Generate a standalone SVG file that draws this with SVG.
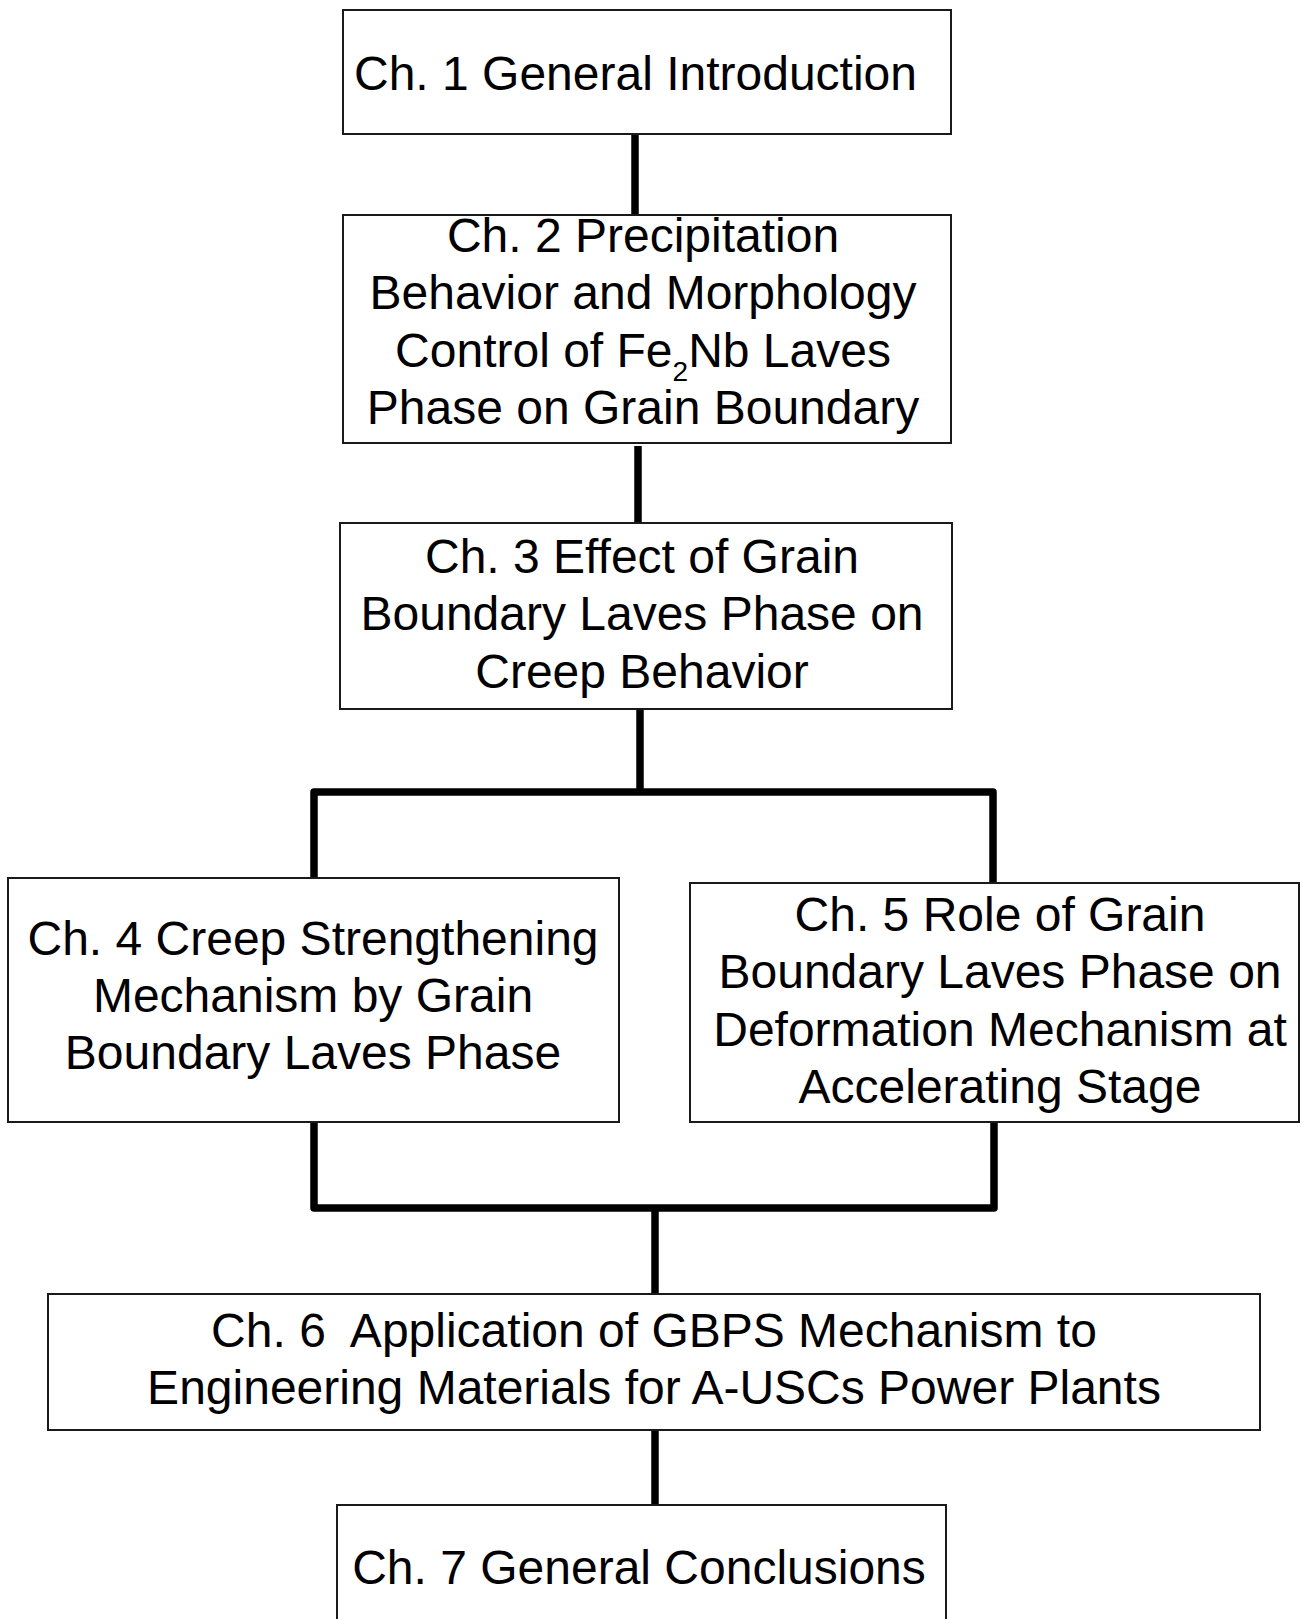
<svg xmlns="http://www.w3.org/2000/svg" width="1302" height="1619" viewBox="0 0 1302 1619">
<style>
.box{fill:#fff;stroke:#1a1a1a;stroke-width:2}
.t{font-family:"Liberation Sans",Arial,Helvetica,sans-serif;font-size:48px;fill:#000;text-anchor:middle}
.c{fill:none;stroke:#000;stroke-width:7.5;stroke-linejoin:round;stroke-linecap:butt}
</style>
<rect width="1302" height="1619" fill="#fff"/>
<g id="connectors">
<line class="c" x1="635" y1="134" x2="635" y2="216"/>
<line class="c" x1="638" y1="446" x2="638" y2="524"/>
<line class="c" x1="640" y1="710" x2="640" y2="792"/>
<path class="c" d="M314,879 V792 H993 V883"/>
<path class="c" d="M314,1122 V1208 H994 V1122"/>
<line class="c" x1="655" y1="1208" x2="655" y2="1295"/>
<line class="c" x1="655" y1="1430" x2="655" y2="1507"/>
</g>
<g id="ch1">
<rect class="box" x="343" y="10" width="608" height="124"/>
<text class="t" x="354" y="90" style="text-anchor:start">Ch. 1 General Introduction</text>
</g>
<g id="ch2">
<rect class="box" x="343" y="215" width="608" height="228"/>
<text class="t" x="643" y="252">Ch. 2 Precipitation</text>
<text class="t" x="643" y="309">Behavior and Morphology</text>
<text class="t" x="643" y="367">Control of Fe<tspan font-size="28" dy="14">2</tspan><tspan dy="-14">Nb Laves</tspan></text>
<text class="t" x="643" y="424">Phase on Grain Boundary</text>
</g>
<g id="ch3">
<rect class="box" x="340" y="523" width="612" height="186"/>
<text class="t" x="642" y="573">Ch. 3 Effect of Grain</text>
<text class="t" x="642" y="630">Boundary Laves Phase on</text>
<text class="t" x="642" y="688">Creep Behavior</text>
</g>
<g id="ch4">
<rect class="box" x="8" y="878" width="611" height="244"/>
<text class="t" x="313" y="955">Ch. 4 Creep Strengthening</text>
<text class="t" x="313" y="1012">Mechanism by Grain</text>
<text class="t" x="313" y="1069">Boundary Laves Phase</text>
</g>
<g id="ch5">
<rect class="box" x="690" y="883" width="609" height="239"/>
<text class="t" x="1000" y="931">Ch. 5 Role of Grain</text>
<text class="t" x="1000" y="988">Boundary Laves Phase on</text>
<text class="t" x="1000" y="1046">Deformation Mechanism at</text>
<text class="t" x="1000" y="1103">Accelerating Stage</text>
</g>
<g id="ch6">
<rect class="box" x="48" y="1294" width="1212" height="136"/>
<text class="t" x="654" y="1347" xml:space="preserve">Ch. 6  Application of GBPS Mechanism to</text>
<text class="t" x="654" y="1404">Engineering Materials for A-USCs Power Plants</text>
</g>
<g id="ch7">
<rect class="box" x="337" y="1505" width="609" height="140"/>
<text class="t" x="639" y="1584">Ch. 7 General Conclusions</text>
</g>
</svg>
